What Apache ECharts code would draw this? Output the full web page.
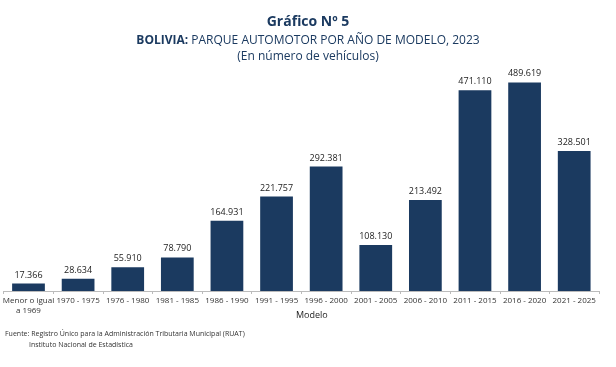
<!DOCTYPE html>
<html>
<head>
<meta charset="utf-8">
<script src="https://cdn.jsdelivr.net/npm/echarts@6/dist/echarts.min.js"></script>
<style>html,body{margin:0;padding:0;background:#fff;}#c{width:616px;height:367px;}</style>
</head>
<body>
<div id="c"></div>
<script>
const categories = ["Menor o igual\na 1969","1970 - 1975","1976 - 1980","1981 - 1985","1986 - 1990","1991 - 1995","1996 - 2000","2001 - 2005","2006 - 2010","2011 - 2015","2016 - 2020","2021 - 2025"];
const vehiculos = [17366,28634,55910,78790,164931,221757,292381,108130,213492,471110,489619,328501];
const titleLine1 = "Gráfico Nº 5";
const titleBold = "BOLIVIA:";
const titleRest = " PARQUE AUTOMOTOR POR AÑO DE MODELO, 2023";
const titleLine3 = "(En número de vehículos)";
const axisName = "Modelo";
const sourceLines = ["Fuente: Registro Único para la Administración Tributaria Municipal (RUAT)", "Instituto Nacional de Estadística"];

const fmt = v => v.toString().replace(/\B(?=(\d{3})+(?!\d))/g, ".");
const navy = "#1b3a60";
const chart = echarts.init(document.getElementById('c'));
chart.setOption({
  animation: false,
  textStyle: {fontFamily: "Open Sans"},
  grid: {left: -1, right: 17, top: 78, bottom: 76, containLabel: false},
  graphic: [
    {type: 'text', left: 'center', top: 15, style: {text: titleLine1, font: 'bold 14px "Open Sans"', fill: navy}},
    {type: 'text', left: 'center', top: 35, style: {text: '{b|' + titleBold + '}{n|' + titleRest + '}', fill: navy, rich: {b: {fontWeight: 'bold', fontSize: 12, fontFamily: 'Open Sans', fill: navy}, n: {fontSize: 12, fontFamily: 'Open Sans', fill: navy}}}},
    {type: 'text', left: 'center', top: 51, style: {text: titleLine3, font: '12px "Open Sans"', fill: navy}},
    {type: 'text', left: 296, top: 311, style: {text: axisName, font: '9px "Open Sans"', fill: '#222'}},
    {type: 'text', left: 5, top: 330, style: {text: sourceLines[0], font: '7px "Open Sans"', fill: '#333'}},
    {type: 'text', left: 29, top: 341, style: {text: sourceLines[1], font: '7px "Open Sans"', fill: '#333'}}
  ],
  xAxis: {
    type: 'category', data: categories,
    axisLine: {lineStyle: {color: '#bbb'}},
    axisTick: {show: true, length: 3, lineStyle: {color: '#bbb'}},
    axisLabel: {fontSize: 8, color: '#333', interval: 0, margin: 5, lineHeight: 10}
  },
  yAxis: {type: 'value', min: 0, max: 500000, show: false, splitLine: {show: false}},
  series: [{
    type: 'bar', data: vehiculos, barWidth: '66%',
    itemStyle: {color: navy},
    label: {show: true, position: 'top', distance: 4, fontSize: 9, color: '#222', formatter: p => fmt(p.value)}
  }]
});
</script>
</body>
</html>
